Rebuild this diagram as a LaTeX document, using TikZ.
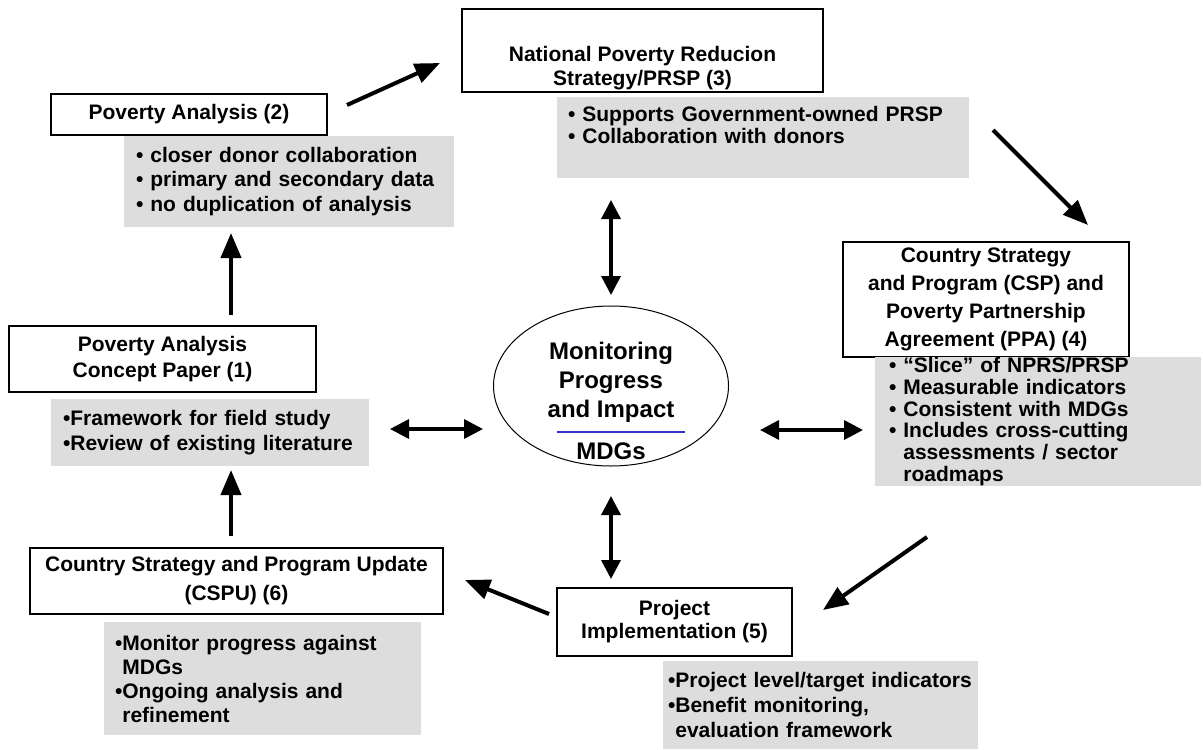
\documentclass[tikz,border=0pt]{standalone}
\usepackage{fontspec}
\setmainfont{Liberation Sans}
\usetikzlibrary{arrows.meta, positioning, shapes.geometric}
\definecolor{notegray}{HTML}{DDDDDD}
\definecolor{mdgblue}{HTML}{3333CC}

\begin{document}
\begin{tikzpicture}[x=0.5pt, y=-0.5pt,
        stage/.style={rectangle, draw=black, fill=white, line width=0.6pt, align=center, inner sep=0pt, font=\fontsize{10.5}{13}\selectfont\bfseries},
        note/.style={rectangle, fill=notegray, align=left, inner xsep=6pt, inner ysep=0pt, font=\fontsize{10.5}{12.2}\selectfont\bfseries},
        hub/.style={ellipse, draw=black, line width=0.5pt, minimum width=117.5pt, minimum height=80pt, inner sep=0pt},
        hubtext/.style={align=center, inner sep=0pt, font=\fontsize{12}{14.5}\selectfont\bfseries},
        flow/.style={-{Triangle[length=12.5pt, width=10pt]}, line width=2pt},
        link/.style={{Triangle[length=9.5pt, width=9.5pt]}-{Triangle[length=9.5pt, width=9.5pt]}, line width=1.75pt}
    ]
        \useasboundingbox (0,0) rectangle (1203,749);

        % Cycle stages (1)-(6)
        \node [stage, minimum width=153.5pt, minimum height=33pt] (pa1) at (162.5,359) {Poverty Analysis\\Concept Paper (1)};
        \node [stage, minimum width=138pt, minimum height=20.5pt] (pa2) at (189,114.5) {Poverty Analysis (2)};
        \node [stage, minimum width=180.5pt, minimum height=41.5pt, font=\fontsize{10.5}{12}\selectfont\bfseries] (nprs) at (642.5,50.5) {\rule{0pt}{25pt}National Poverty Reducion\\Strategy/PRSP (3)};
        \node [stage, minimum width=143pt, minimum height=57.5pt, font=\fontsize{10.5}{14}\selectfont\bfseries] (csp) at (986,299.5) {Country Strategy\\and Program (CSP) and\\Poverty Partnership\\Agreement (PPA) (4)};
        \node [stage, minimum width=117.5pt, minimum height=34pt, font=\fontsize{10.5}{11.5}\selectfont\bfseries] (impl) at (674.5,622) {Project\\Implementation (5)};
        \node [stage, minimum width=206.5pt, minimum height=33pt, font=\fontsize{10.5}{14.5}\selectfont\bfseries] (cspu) at (236.5,581) {Country Strategy and Program Update\\(CSPU) (6)};

        % Grey notes under each stage
        \node [note, text width=147pt, minimum height=33.5pt, font=\fontsize{10.5}{12.5}\selectfont\bfseries] (pa1note) at (210,432.5) {\textbullet Framework for field study\\\textbullet Review of existing literature};
        \node [note, text width=153pt, minimum height=45.5pt] (pa2note) at (289,181.5) {\textbullet\ closer donor collaboration\\\textbullet\ primary and secondary data\\\textbullet\ no duplication of analysis};
        \node [note, text width=195pt, inner xsep=5.5pt, minimum height=40.5pt, font=\fontsize{10.5}{11}\selectfont\bfseries] (nprsnote) at (763,137.5) {\textbullet\ Supports Government-owned PRSP\\\textbullet\ Collaboration with donors\rule[-13pt]{0pt}{13pt}};
        \node [note, text width=149pt, inner xsep=7pt, minimum height=63.5pt, font=\fontsize{10.5}{10.9}\selectfont\bfseries] (cspnote) at (1038,421.5) {\textbullet\ “Slice” of NPRS/PRSP\\\textbullet\ Measurable indicators\\\textbullet\ Consistent with MDGs\\\textbullet\ Includes cross-cutting\\\hphantom{\textbullet\ }assessments / sector\\\hphantom{\textbullet\ }roadmaps};
        \node [note, text width=152.5pt, inner xsep=2.5pt, minimum height=44pt, font=\fontsize{10.5}{12.5}\selectfont\bfseries] (implnote) at (820.5,705) {\textbullet Project level/target indicators\\\textbullet Benefit monitoring,\\\hphantom{\textbullet}evaluation framework};
        \node [note, text width=147.5pt, inner xsep=5.5pt, minimum height=56.5pt, font=\fontsize{10.5}{12}\selectfont\bfseries] (cspunote) at (262.5,678.5) {\textbullet Monitor progress against\\\hphantom{\textbullet}MDGs\\\textbullet Ongoing analysis and\\\hphantom{\textbullet}refinement};

        % Centre: monitoring
        \node [hub] (mon) at (611,386) {};
        \node [hubtext] (montitle) at (611,382) {Monitoring\\Progress\\and Impact};
        \draw [mdgblue, line width=1pt] (557,432) -- (685,432);
        \node [hubtext] (mdgs) at (611,451) {MDGs};

        % Arrow ends
        \coordinate (c1a) at (231,315);  \coordinate (c1b) at (231,233);
        \coordinate (c2a) at (347,105);  \coordinate (c2b) at (440,63);
        \coordinate (c3a) at (993,130);  \coordinate (c3b) at (1088,225);
        \coordinate (c4a) at (927,537);  \coordinate (c4b) at (823,610);
        \coordinate (c5a) at (549,614);  \coordinate (c5b) at (465,580);
        \coordinate (c6a) at (231,536);  \coordinate (c6b) at (231,470);

        \coordinate (tA) at (611,200);  \coordinate (tB) at (611,295);
        \coordinate (bA) at (611,496);  \coordinate (bB) at (611,579);
        \coordinate (lA) at (390,429);  \coordinate (lB) at (483,429);
        \coordinate (rA) at (760,430);  \coordinate (rB) at (863,430);

        % Cycle arrows
        \draw [flow] (c1a) -- (c1b);
        \draw [flow] (c2a) -- (c2b);
        \draw [flow] (c3a) -- (c3b);
        \draw [flow] (c4a) -- (c4b);
        \draw [flow] (c5a) -- (c5b);
        \draw [flow] (c6a) -- (c6b);

        % Links to the centre
        \draw [link] (tA) -- (tB);
        \draw [link] (bA) -- (bB);
        \draw [link] (lA) -- (lB);
        \draw [link] (rA) -- (rB);

    \end{tikzpicture}
\end{document}
